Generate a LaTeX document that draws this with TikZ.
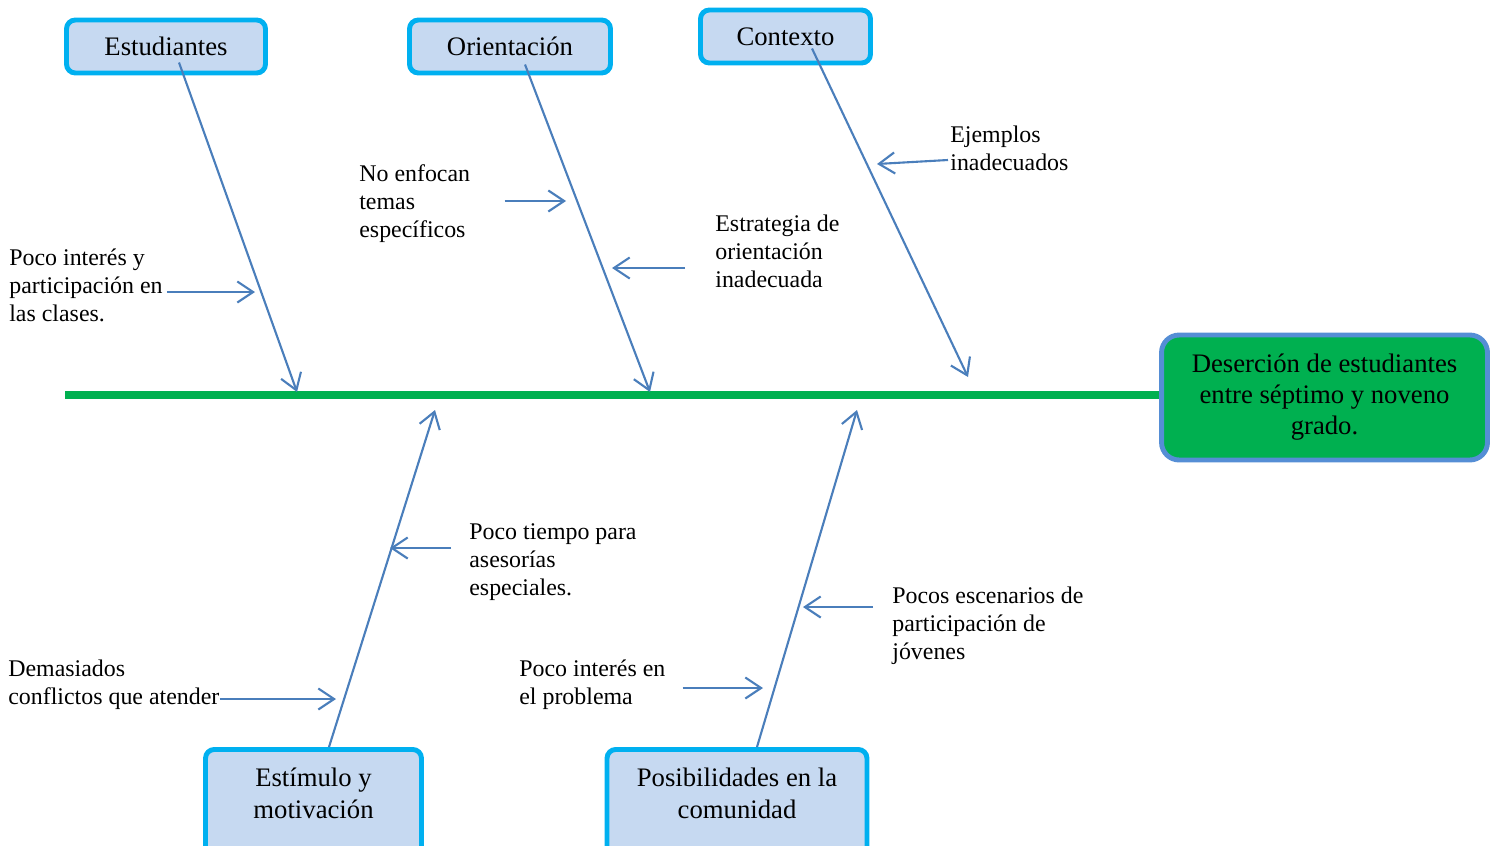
\documentclass[tikz,border=0pt]{standalone}
\usepackage{fontspec}
\setmainfont{Liberation Serif}
\usetikzlibrary{arrows.meta,calc}

\definecolor{cajaazul}{RGB}{198,217,241}
\definecolor{bordeazul}{RGB}{0,176,240}
\definecolor{espina}{RGB}{74,126,187}
\definecolor{verde}{RGB}{0,176,80}
\definecolor{bordeefecto}{RGB}{85,142,213}

\begin{document}
\begin{tikzpicture}[x=0.02cm, y=-0.02cm,
    causa/.style={draw=bordeazul, fill=cajaazul, line width=2.8pt, rounded corners=5pt,
        align=center, font=\fontsize{15.2}{18}\selectfont},
    nota/.style={anchor=north west, inner sep=0pt, align=left, font=\fontsize{13.6}{15.9}\selectfont},
    hueso/.style={espina, line width=1.2pt, -{Straight Barb[length=9pt,width=12pt]}}]
\useasboundingbox (0,0) rectangle (1497,845);
\clip (0,0) rectangle (1497,845);

% Efecto y espina central
\node[draw=bordeefecto, fill=verde, line width=2.8pt, rounded corners=10pt,
    minimum width=6.52cm, minimum height=2.5cm, align=center,
    font=\fontsize{15.2}{17.6}\selectfont] (efecto) at (1324.5,397.5)
    {Deserción de estudiantes\\entre séptimo y noveno\\grado.};
\coordinate (cola) at (65,395);
\draw[verde, line width=4pt] (cola) -- (efecto.west |- cola);

% Causas de arriba
\node[causa, minimum width=3.98cm, minimum height=1.06cm] (estudiantes) at (166,46.5) {Estudiantes};
\node[causa, minimum width=4.02cm, minimum height=1.06cm] (orientacion) at (510,46.5) {Orientación};
\node[causa, minimum width=3.4cm, minimum height=1.06cm] (contexto) at (785.5,36.5) {Contexto};

% Causas de abajo (cortadas por el borde)
\node[causa, anchor=north, minimum width=4.32cm, inner ysep=10.5pt, text depth=60pt] (estimulo)
    at (313.5,747) {Estímulo y\\motivación};
\node[causa, anchor=north, minimum width=5.2cm, inner ysep=10.5pt, text depth=60pt] (posibilidades)
    at (737,747) {Posibilidades en la\\comunidad};

% Puntas sobre la espina
\coordinate (t1) at (297,392);
\coordinate (t2) at (650,392);
\coordinate (t3) at (968,377);
\coordinate (t4) at (435,410);
\coordinate (t5) at (857,410);

% Espinas
\foreach \caja/\dx/\dy/\punta in {estudiantes/13/16/t1, orientacion/15/18/t2, contexto/26.5/12/t3,
    estimulo.north/15.5/0/t4, posibilidades.north/20/0/t5} {
    \draw[hueso] ($(\caja)+(\dx,\dy)$) -- (\punta);
}

% Subcausas
\node[nota] (na) at (9,249) {Poco interés y\\participación en\\las clases.};
\node[nota] (nb) at (359,164) {No enfocan\\temas\\específicos};
\node[nota] (nc) at (715,215) {Estrategia de\\orientación\\inadecuada};
\node[nota] (nd) at (950,126) {Ejemplos\\inadecuados};
\node[nota] (ne) at (469,523) {Poco tiempo para\\asesorías\\especiales.};
\node[nota] (nf) at (892,587) {Pocos escenarios de\\participación de\\jóvenes};
\node[nota] (ng) at (519,660) {Poco interés en\\el problema};
\node[nota] (nh) at (8,660) {Demasiados\\conflictos que atender};

\coordinate (pa) at (255,292);
\coordinate (pb) at (566,201);
\coordinate (pc) at (612,268);
\coordinate (pd) at (877,164);
\coordinate (pe) at (390,548);
\coordinate (pf) at (803,607);
\coordinate (pg) at (763,688);
\coordinate (ph) at (336,699);

\draw[hueso] (na.east |- pa) ++(4,0) -- (pa);
\draw[hueso] (nb.east |- pb) ++(34,0) -- (pb);
\draw[hueso] (nc.west |- pc) ++(-30,0) -- (pc);
\draw[hueso] ($(nd.west |- pd)+(-2,-4)$) -- (pd);
\draw[hueso] (ne.west |- pe) ++(-18,0) -- (pe);
\draw[hueso] (nf.west |- pf) ++(-19,0) -- (pf);
\draw[hueso] (ng.east |- pg) ++(17,0) -- (pg);
\draw[hueso] (nh.east |- ph) -- (ph);
\end{tikzpicture}
\end{document}
